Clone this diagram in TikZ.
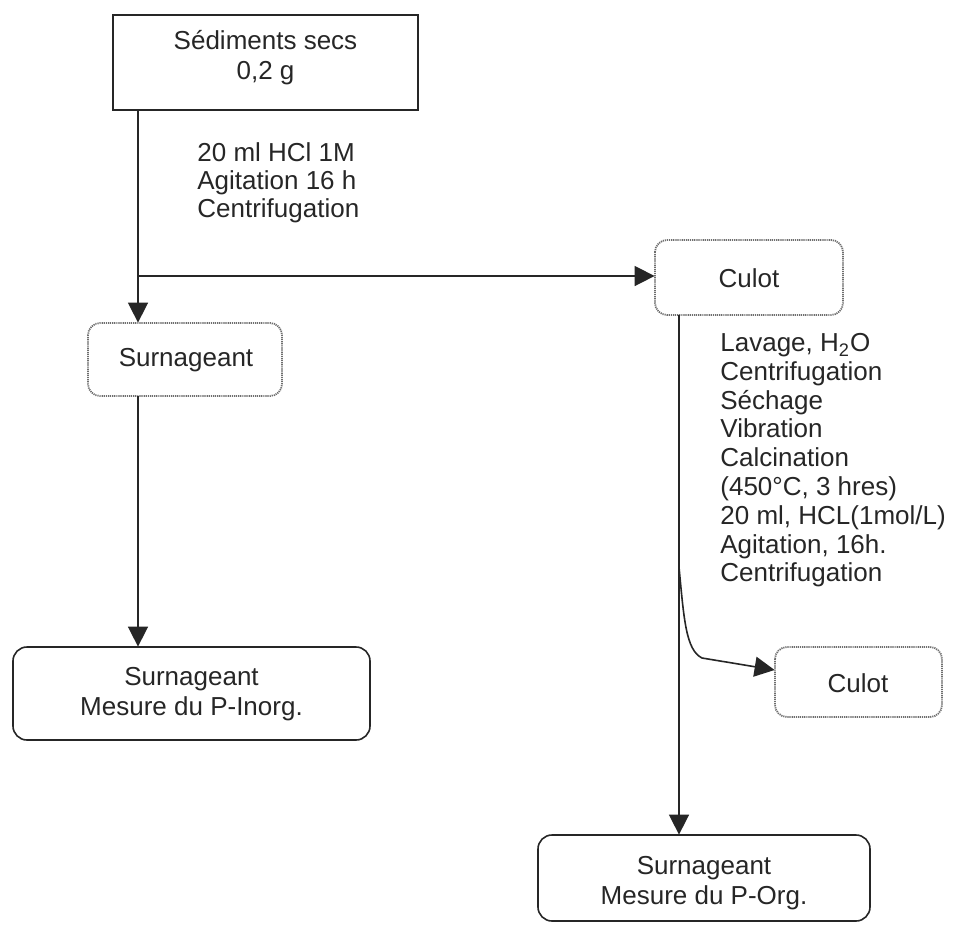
\documentclass[tikz,border=0pt]{standalone}
\usepackage{fontspec}
\setmainfont{Liberation Sans}
\usetikzlibrary{arrows.meta}
\definecolor{ink}{HTML}{262626}
\definecolor{dotc}{HTML}{6E6E6E}
\begin{document}
\begin{tikzpicture}[x=0.5pt,y=-0.5pt,
  every node/.style={font=\fontsize{13pt}{15pt}\selectfont, text=ink, inner sep=0pt},
  plainbox/.style={draw=ink, line width=0.8pt},
  roundbox/.style={draw=ink, line width=0.8pt, rounded corners=7pt},
  dotbox/.style={draw=dotc, line width=0.9pt, rounded corners=6pt, dash pattern=on 0.6pt off 0.45pt},
  arr/.style={draw=ink, line width=0.8pt, -{Triangle[length=10pt,width=10pt]}},
  lbl/.style={align=left, anchor=north west}
]
\useasboundingbox (0,0) rectangle (954,928);

% boxes
\draw[plainbox] (113,15) rectangle (418,110);
\node (sed) [minimum width=152.5pt, minimum height=47.5pt] at (265.5,62.5) {};
\node[align=center] at (265.5,58) {Sédiments secs\\0,2 g};

\draw[dotbox] (88,323) rectangle (282,396);
\node (surn) [minimum width=97pt, minimum height=36.5pt] at (185,359.5) {};
\node at (186,360) {Surnageant};

\draw[dotbox] (655,240) rectangle (843,315);
\node (culot) [minimum width=94pt, minimum height=37.5pt] at (749,277.5) {};
\node at (749,278) {Culot};

\draw[dotbox] (775,647) rectangle (942,717);
\node (culot2) [minimum width=83.5pt, minimum height=35pt] at (858.5,682) {};
\node at (858,683) {Culot};

\draw[roundbox] (13,647) rectangle (370,740);
\node (pinorg) [minimum width=178.5pt, minimum height=46.5pt] at (191.5,693.5) {};
\node[align=center] at (191.5,694) {Surnageant\\Mesure du P-Inorg.};

\draw[roundbox] (538,835) rectangle (870,921);
\node (porg) [minimum width=166pt, minimum height=43pt] at (704,878) {};
\node[align=center] at (704,883) {Surnageant\\Mesure du P-Org.};

% step labels
\node[lbl, font=\fontsize{13pt}{14pt}\selectfont] (lab1) at (197,142) {20 ml HCl 1M\\Agitation 16 h\\Centrifugation};
\node[lbl, font=\fontsize{13pt}{14.4pt}\selectfont] (lab2) at (720,333) {Lavage, H\textsubscript{2}O\\Centrifugation\\Séchage\\Vibration\\Calcination\\(450°C, 3 hres)\\20 ml, HCL(1mol/L)\\Agitation, 16h.\\Centrifugation};

% branch points
\coordinate (j1) at (138,276);
\coordinate (j2) at (679,567);

% connectors
\draw[arr] (sed.south -| j1) -- (surn.north -| j1);
\draw[arr] (j1) -- (culot.west |- j1);
\draw[arr] (surn.south -| j1) -- (pinorg.north -| j1);
\draw[arr] (culot.south -| j2) -- (porg.north -| j2);
\draw[arr] (j2) .. controls (684,620) and (686,650) .. (702,658) -- ([yshift=6pt]culot2.west);
\end{tikzpicture}
\end{document}
